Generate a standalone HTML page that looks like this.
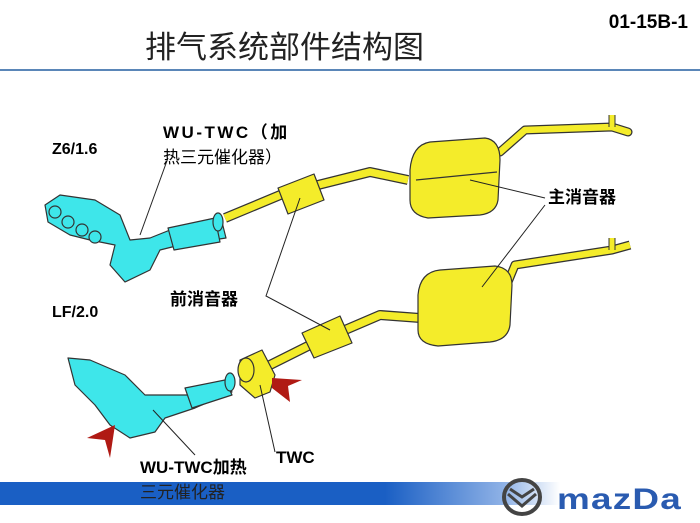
<!DOCTYPE html>
<html><head><meta charset="utf-8"><style>
body{margin:0;background:#fff;}
svg{display:block}
text{font-family:"Liberation Sans","Noto Sans CJK SC",sans-serif;}
</style></head><body>
<svg width="700" height="523" viewBox="0 0 700 523" xmlns="http://www.w3.org/2000/svg">
<defs>
<linearGradient id="bar" x1="0" x2="1" y1="0" y2="0">
<stop offset="0" stop-color="#1a5fc4"/><stop offset="0.55" stop-color="#1a5fc4"/><stop offset="0.72" stop-color="#8fb2e6"/><stop offset="0.8" stop-color="#ffffff"/></linearGradient>
</defs>
<text x="688" y="28" text-anchor="end" font-size="19" font-weight="bold">01-15B-1</text>
<text x="145" y="58" font-size="31" fill="#222">排气系统部件结构图</text>
<rect x="0" y="69" width="700" height="2" fill="#5a86b8"/>

<!-- top system -->
<g stroke="#333" stroke-width="1.2" stroke-linejoin="round">
<path d="M500,152 L525,130 L612,127 L628,132" fill="none" stroke="#333" stroke-width="9" stroke-linecap="round"/>
<path d="M500,152 L525,130 L612,127 L628,132" fill="none" stroke="#f4ec2a" stroke-width="6.5" stroke-linecap="round"/>
<path d="M612,127 L612,115" stroke="#333" stroke-width="7"/><path d="M612,127 L612,115" stroke="#f4ec2a" stroke-width="5"/>
<path d="M225,218 L285,193 M318,185 L370,172 L408,180" fill="none" stroke="#333" stroke-width="10"/>
<path d="M225,218 L285,193 M318,185 L370,172 L408,180" fill="none" stroke="#f4ec2a" stroke-width="7.5"/>
<path d="M278,188 L314,174 L324,200 L288,214 Z" fill="#f4ec2a"/>
<path d="M410,170 Q412,145 430,142 L485,138 Q500,140 500,160 L498,200 Q496,213 480,215 L428,218 Q410,215 410,200 Z" fill="#f4ec2a"/>
<path d="M416,180 L497,172" fill="none"/>
<!-- manifold top -->
<path d="M45,205 L60,195 L95,200 L120,215 L130,240 L150,238 L175,228 L222,222 L226,238 L180,245 L160,250 L150,270 L125,282 L110,265 L115,245 L90,240 L70,235 L48,222 Z" fill="#3ee6ea"/>
<circle cx="55" cy="212" r="6" fill="#3ee6ea"/><circle cx="68" cy="222" r="6" fill="#3ee6ea"/><circle cx="82" cy="230" r="6" fill="#3ee6ea"/><circle cx="95" cy="237" r="6" fill="#3ee6ea"/>
<path d="M168,228 L215,218 L220,242 L174,250 Z" fill="#3ee6ea"/>
<ellipse cx="218" cy="222" rx="5" ry="9" fill="#3ee6ea"/>
</g>

<!-- bottom system -->
<g stroke="#333" stroke-width="1.2" stroke-linejoin="round">
<path d="M508,282 L515,265 L612,250 L630,245" fill="none" stroke="#333" stroke-width="9"/>
<path d="M508,282 L515,265 L612,250 L630,245" fill="none" stroke="#f4ec2a" stroke-width="6.5"/>
<path d="M612,250 L612,238" stroke="#333" stroke-width="7"/><path d="M612,250 L612,238" stroke="#f4ec2a" stroke-width="5"/>
<path d="M270,365 L310,345 M345,330 L380,315 L420,318" fill="none" stroke="#333" stroke-width="10"/>
<path d="M270,365 L310,345 M345,330 L380,315 L420,318" fill="none" stroke="#f4ec2a" stroke-width="7.5"/>
<path d="M302,333 L340,316 L352,343 L314,358 Z" fill="#f4ec2a"/>
<path d="M418,295 Q420,272 440,270 L495,266 Q512,268 512,285 L510,325 Q508,340 490,342 L438,346 Q418,344 418,330 Z" fill="#f4ec2a"/>
<path d="M240,360 L262,350 L275,375 L270,392 L255,398 L240,385 Z" fill="#f4ec2a"/>
<ellipse cx="246" cy="370" rx="8" ry="12" fill="#f4ec2a"/>
<path d="M68,358 L90,360 L125,375 L145,395 L190,395 L225,380 L232,392 L195,408 L165,418 L155,432 L130,438 L110,425 L95,405 L75,385 Z" fill="#3ee6ea"/>
<path d="M185,388 L225,380 L232,395 L192,408 Z" fill="#3ee6ea"/>
<ellipse cx="230" cy="382" rx="5" ry="9" fill="#3ee6ea"/>
</g>

<!-- red arrows -->
<path d="M272,378 L302,380 L288,386 L290,402 L272,388 Z" fill="#b01a14"/>
<path d="M115,425 L110,458 L105,440 L87,438 Z" fill="#b01a14"/>

<!-- leader lines -->
<g stroke="#222" stroke-width="1" fill="none">
<path d="M168,158 L140,235"/>
<path d="M300,198 L266,296 L330,330"/>
<path d="M545,198 L470,180 M545,205 L482,287"/>
<path d="M153,410 L195,455"/>
<path d="M260,385 L275,452"/>
</g>

<text x="52" y="154" font-size="16" font-weight="bold">Z6/1.6</text>
<text x="163" y="138" font-size="17" font-weight="bold" letter-spacing="2.5">WU-TWC（加</text>
<text x="163" y="163" font-size="17">热三元催化器）</text>
<text x="170" y="305" font-size="17" font-weight="bold">前消音器</text>
<text x="52" y="317" font-size="16" font-weight="bold">LF/2.0</text>
<text x="548" y="203" font-size="17" font-weight="bold">主消音器</text>
<text x="276" y="463" font-size="17" font-weight="bold">TWC</text>

<rect x="0" y="482" width="700" height="23" fill="url(#bar)"/>
<text x="140" y="473" font-size="17" font-weight="bold">WU-TWC加热</text>
<text x="140" y="498" font-size="17" fill="#222">三元催化器</text>

<!-- mazda logo -->
<ellipse cx="522" cy="497" rx="18" ry="17" fill="none" stroke="#444" stroke-width="4"/>
<path d="M508,494 L522,506 L536,494 M510,489 L522,497 L534,489" fill="none" stroke="#444" stroke-width="3"/>
<text x="557" y="509" font-size="30" font-weight="bold" fill="#2a5bb0" letter-spacing="1" textLength="125" lengthAdjust="spacingAndGlyphs">mazDa</text>
</svg>
</body></html>
